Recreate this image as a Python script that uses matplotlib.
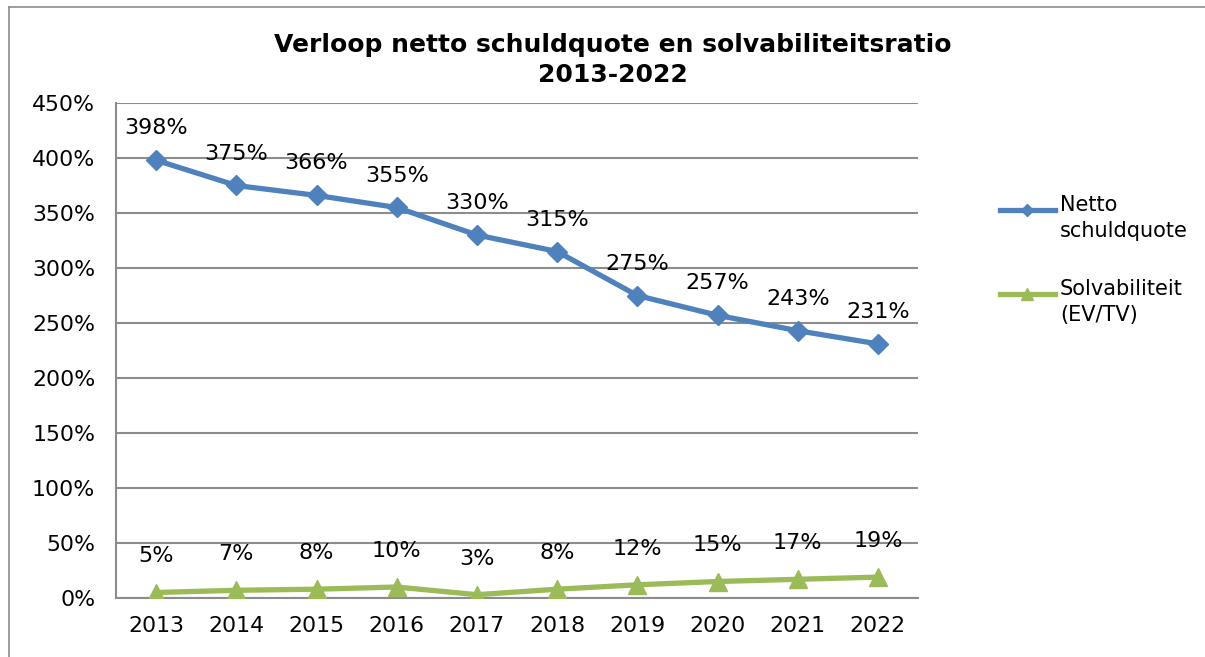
import matplotlib.pyplot as plt
from matplotlib.lines import Line2D

# data
years = ['2013', '2014', '2015', '2016', '2017', '2018', '2019', '2020', '2021', '2022']
netto_schuldquote = [398, 375, 366, 355, 330, 315, 275, 257, 243, 231]
solvabiliteit = [5, 7, 8, 10, 3, 8, 12, 15, 17, 19]

blue = '#4F81BD'
green = '#9BBB59'
grid_col = '#8C8C8C'

plt.rcParams['font.family'] = ['DejaVu Sans']

fig = plt.figure(figsize=(12.05, 6.57), dpi=100)
ax = fig.add_axes([116 / 1205, 59 / 657, 802 / 1205, 495 / 657])

x = list(range(len(years)))
ax.plot(x, netto_schuldquote, color=blue, lw=3.8, marker='D', ms=10.5,
        markeredgecolor=blue, zorder=3)
ax.plot(x, solvabiliteit, color=green, lw=3.8, marker='^', ms=13,
        markeredgecolor=green, zorder=3)

for xi, v in zip(x, netto_schuldquote):
    ax.annotate(f'{v}%', (xi, v), xytext=(0, 23), textcoords='offset points',
                ha='center', va='center', fontsize=16, zorder=4)
for xi, v in zip(x, solvabiliteit):
    ax.annotate(f'{v}%', (xi, v), xytext=(0, 26), textcoords='offset points',
                ha='center', va='center', fontsize=16, zorder=4)

ax.set_xlim(-0.5, 9.5)
ax.set_ylim(0, 450)
ax.set_yticks(range(0, 451, 50))
ax.set_yticklabels([f'{t}%' for t in range(0, 451, 50)])
ax.set_xticks(x)
ax.set_xticklabels(years)
ax.tick_params(axis='both', length=0, labelsize=15.8)
ax.tick_params(axis='y', pad=15)
ax.tick_params(axis='x', pad=13)
ax.yaxis.grid(True, color=grid_col, lw=1.5)
ax.set_axisbelow(True)
for s in ['top', 'right']:
    ax.spines[s].set_visible(False)
for s in ['left', 'bottom']:
    ax.spines[s].set_color(grid_col)
    ax.spines[s].set_linewidth(1.5)

# title
fig.text(613 / 1205, 1 - 60 / 657, 'Verloop netto schuldquote en solvabiliteitsratio\n2013-2022',
         ha='center', va='center', fontsize=18, fontweight='bold', linespacing=1.3)

# legend
def legend_entry(y_px, color, marker, ms, label):
    y = 1 - y_px / 657
    fig.add_artist(Line2D([1000 / 1205, 1055 / 1205], [y, y], color=color, lw=3.8,
                          transform=fig.transFigure))
    fig.add_artist(Line2D([1027 / 1205], [y], color=color, marker=marker, ms=ms,
                          transform=fig.transFigure))
    fig.text(1060 / 1205, y + 15 / 657, label, ha='left', va='top', fontsize=15,
             linespacing=1.4)

legend_entry(210, blue, 'D', 6, 'Netto\nschuldquote')
legend_entry(294, green, '^', 8, 'Solvabiliteit\n(EV/TV)')

# outer frame
fig.add_artist(Line2D([9 / 1205, 9 / 1205], [0, 1 - 7 / 657], color='#8C8C8C', lw=1.2,
                      transform=fig.transFigure))
fig.add_artist(Line2D([9 / 1205, 1], [1 - 7 / 657, 1 - 7 / 657], color='#8C8C8C', lw=1.2,
                      transform=fig.transFigure))

fig.savefig('out.png', dpi=100)
